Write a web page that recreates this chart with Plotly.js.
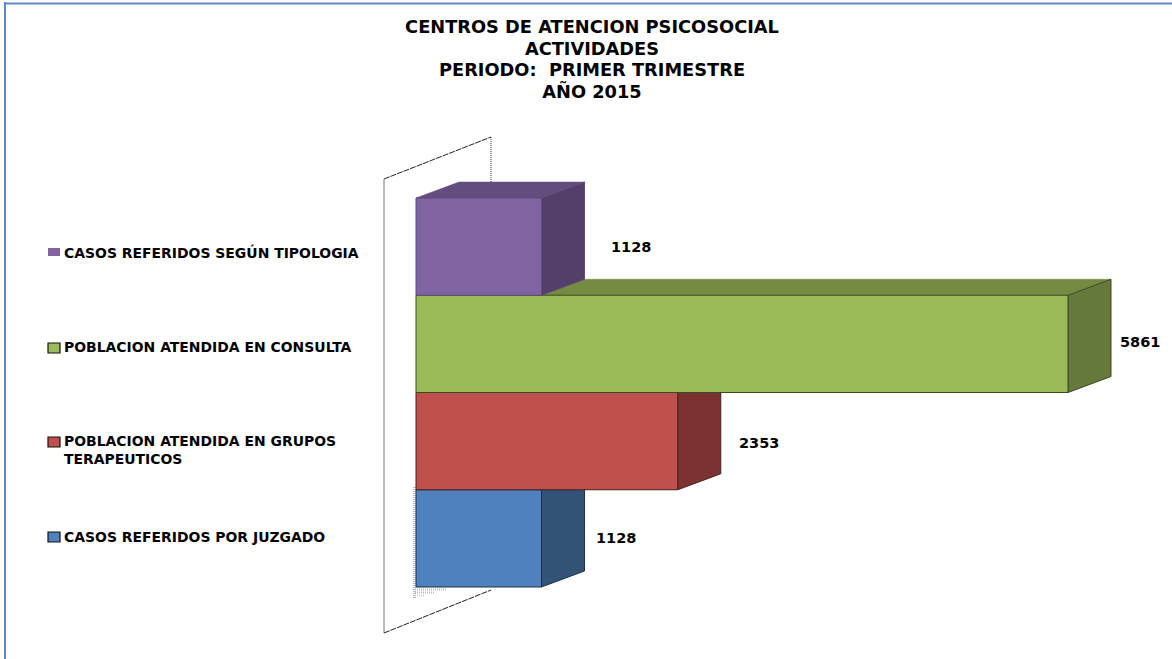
<!DOCTYPE html>
<html><head><meta charset="utf-8">
<script src="https://cdn.plot.ly/plotly-3.0.1.min.js"></script>
<style>html,body{margin:0;padding:0;background:#fff}#c{width:1172px;height:659px}</style></head>
<body><div id="c"></div>
<script>
var categories = ["CASOS REFERIDOS POR JUZGADO","POBLACION ATENDIDA EN GRUPOS<br>TERAPEUTICOS","POBLACION ATENDIDA EN CONSULTA","CASOS REFERIDOS SEGÚN TIPOLOGIA"];
var values = [1128,2353,5861,1128];
var titleLines = ["CENTROS DE ATENCION PSICOSOCIAL","ACTIVIDADES","PERIODO:  PRIMER TRIMESTRE","AÑO 2015"];
var frontColors = ["#4F81BD","#C0504D","#9BBB59","#8064A2"];
var topColors = ["#3B6090","#8F3C3A","#738C42","#634D7E"];
var sideColors = ["#325278","#7C3230","#64793A","#533F69"];
var edgeColors = ["#1E3148","#4A1E1D","#3C4923","#5F4B79"];
var labelShiftX = [75,81,72,90];
var labelShiftY = [0,2,-2,0];
var legendTextY = [537,450,347,252];
var legendKeyY = [537,442,348,252];

var W=1172,H=659;
var PXU=652/5861, X0=416, ROW=97.25, YB=587;
var xr=[-X0/PXU,(W-X0)/PXU];
var yr=[-(H-YB)/ROW-0.5,YB/ROW-0.5];
var dx=43/PXU, dy=16/ROW;
function px(x){return x/W;} function py(y){return 1-y/H;}
function poly(pts){return 'M'+pts.map(function(p){return p[0]+','+p[1];}).join('L')+'Z';}
function sized(text,size){return text.split('<br>').map(function(t){return '<span style="font-size:'+size+'px">'+t+'</span>';}).join('<br>');}

var shapes=[];
function wall(x0,y0,x1,y1,c,w,dash){shapes.push({type:'line',layer:'below',xref:'paper',yref:'paper',x0:px(x0),y0:py(y0),x1:px(x1),y1:py(y1),line:{color:c,width:w,dash:dash||'solid'}});}
wall(384,179,491,137,'#222',1,'6px,1px');
wall(491,137,491,184,'#333',1,'1px,1px');
wall(384,179,384,633,'#777',1);
wall(384,633,491,590,'#222',1,'6px,1px');
wall(414.5,487,414.5,599,'#bbb',3,'1px,1px');
wall(415,589.5,446,589.5,'#bbb',2,'1px,1px');
wall(415,592.5,434,592.5,'#bbb',2,'1px,1px');
wall(415,595.5,425,595.5,'#ccc',2,'1px,1px');
wall(5,2,5,659,'#5B8CCB',2);
wall(4,3.5,1172,3.5,'#5B8CCB',2);

values.forEach(function(v,i){
  var t=i+0.5,b=i-0.5;
  shapes.push({type:'path',layer:'below',xref:'x',yref:'y',path:poly([[0,t],[dx,t+dy],[v+dx,t+dy],[v,t]]),fillcolor:topColors[i],line:{color:topColors[i],width:0.5}});
  shapes.push({type:'path',layer:'below',xref:'x',yref:'y',path:poly([[v,t],[v+dx,t+dy],[v+dx,b+dy],[v,b]]),fillcolor:sideColors[i],line:{color:edgeColors[i],width:1}});
});

var annotations=[];
values.forEach(function(v,i){
  annotations.push({xref:'x',yref:'y',x:v,y:i,text:String(v),showarrow:false,xshift:labelShiftX[i],yshift:-labelShiftY[i],
    font:{family:'DejaVu Sans',size:14.5,color:'#000',weight:700},xanchor:'center',yanchor:'middle'});
});
categories.forEach(function(c,i){
  annotations.push({xref:'paper',yref:'paper',x:px(62),y:py(legendTextY[i]),text:sized(c,13.95),showarrow:false,align:'left',xanchor:'left',yanchor:'middle',
    font:{family:'DejaVu Sans',size:13.5,color:'#000',weight:700}});
  var h=i==3?4:5;
  shapes.push({type:'rect',layer:'above',xref:'paper',yref:'paper',x0:px(48),x1:px(60),y0:py(legendKeyY[i]-h),y1:py(legendKeyY[i]+h),fillcolor:frontColors[i],line:{color:i==3?frontColors[i]:'#111',width:i==3?0:1.2}});
});

var traces=values.map(function(v,i){
  return {type:'bar',orientation:'h',name:categories[i],x:[v],y:[i],width:1,
    marker:{color:frontColors[i],line:{color:edgeColors[i],width:1}},hoverinfo:'x+name',showlegend:false};
});

Plotly.newPlot('c',traces,{
  width:W,height:H,margin:{l:0,r:0,t:0,b:0},paper_bgcolor:'#fff',plot_bgcolor:'rgba(0,0,0,0)',
  barmode:'overlay',showlegend:false,
  title:{text:sized(titleLines.join('<br>'),17.8),x:592/W,xanchor:'center',y:1-33/H,yanchor:'top',font:{family:'DejaVu Sans',size:16.7,color:'#000',weight:700}},
  xaxis:{range:xr,visible:false,fixedrange:true},
  yaxis:{range:yr,visible:false,fixedrange:true},
  shapes:shapes,annotations:annotations
},{staticPlot:true});
</script></body></html>
